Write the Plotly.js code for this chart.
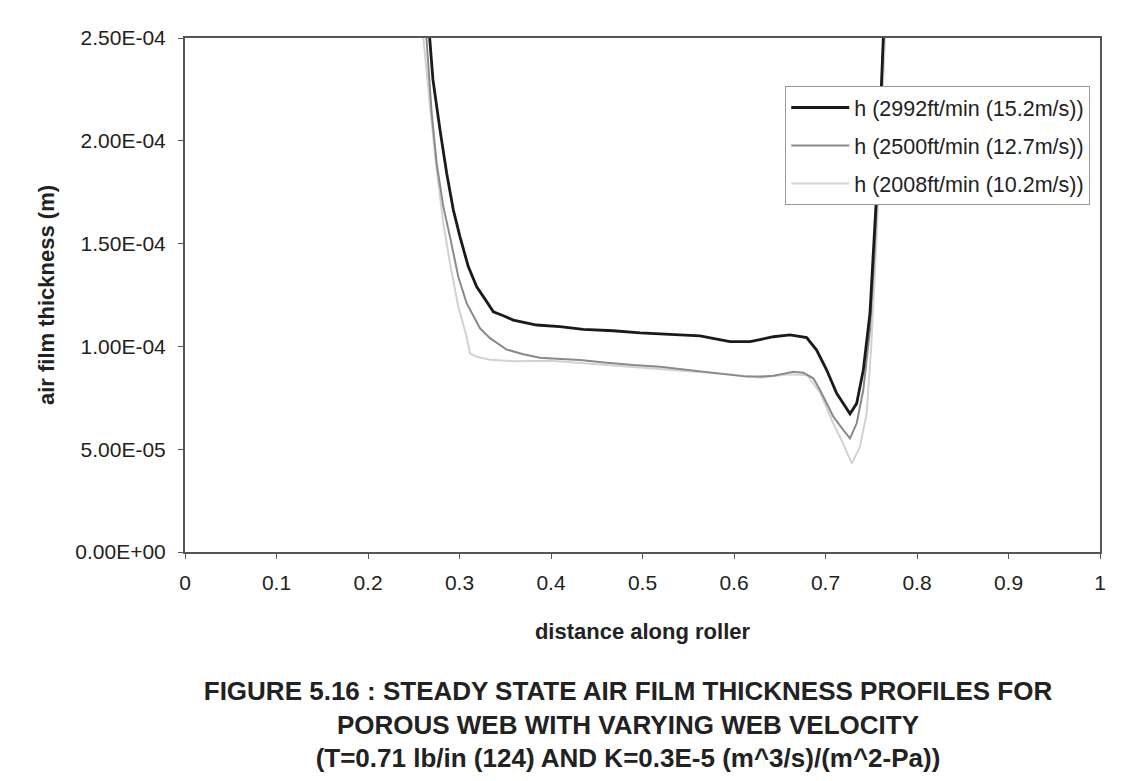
<!DOCTYPE html>
<html>
<head>
<meta charset="utf-8">
<script src="https://cdn.plot.ly/plotly-3.0.1.min.js"></script>
<style>html,body{margin:0;padding:0;background:#fff;}#chart{width:1142px;height:781px;}</style>
</head>
<body>
<div id="chart"></div>
<script>
// Series names
const seriesNames = ["h (2992ft/min (15.2m/s))", "h (2500ft/min (12.7m/s))", "h (2008ft/min (10.2m/s))"];

// 2992 ft/min (15.2 m/s)
const x2992 = [0.263, 0.267, 0.271, 0.2787, 0.286, 0.2933, 0.3005, 0.3096, 0.3188, 0.3279, 0.3333, 0.337, 0.348, 0.3588, 0.3843, 0.4098, 0.4353, 0.468, 0.4973, 0.5301, 0.5628, 0.5956, 0.6175, 0.6284, 0.643, 0.6612, 0.6794, 0.6903, 0.7013, 0.7122, 0.7268, 0.7341, 0.7413, 0.7486, 0.7541, 0.7577, 0.7614, 0.7645];
const h2992 = [2.75e-4, 2.5e-4, 2.296e-4, 2.053e-4, 1.842e-4, 1.663e-4, 1.534e-4, 1.388e-4, 1.290e-4, 1.23e-4, 1.19e-4, 1.168e-4, 1.149e-4, 1.128e-4, 1.104e-4, 1.096e-4, 1.083e-4, 1.076e-4, 1.066e-4, 1.059e-4, 1.051e-4, 1.023e-4, 1.023e-4, 1.033e-4, 1.047e-4, 1.056e-4, 1.043e-4, 0.982e-4, 0.885e-4, 0.772e-4, 0.672e-4, 0.723e-4, 0.885e-4, 1.161e-4, 1.566e-4, 1.891e-4, 2.30e-4, 2.65e-4];

// 2500 ft/min (12.7 m/s)
const x2500 = [0.260, 0.264, 0.2696, 0.275, 0.2823, 0.2896, 0.2987, 0.3078, 0.3188, 0.3224, 0.3333, 0.3515, 0.3697, 0.388, 0.4062, 0.4317, 0.4609, 0.49, 0.519, 0.5519, 0.5847, 0.6138, 0.6284, 0.643, 0.6576, 0.6648, 0.6758, 0.6867, 0.694, 0.7086, 0.7195, 0.7268, 0.7341, 0.7413, 0.7486, 0.7541, 0.7577, 0.7614, 0.7645];
const h2500 = [2.75e-4, 2.5e-4, 2.134e-4, 1.891e-4, 1.680e-4, 1.534e-4, 1.339e-4, 1.210e-4, 1.112e-4, 1.088e-4, 1.040e-4, 0.985e-4, 0.962e-4, 0.945e-4, 0.940e-4, 0.934e-4, 0.921e-4, 0.909e-4, 0.901e-4, 0.885e-4, 0.869e-4, 0.853e-4, 0.853e-4, 0.857e-4, 0.870e-4, 0.877e-4, 0.872e-4, 0.845e-4, 0.788e-4, 0.658e-4, 0.593e-4, 0.553e-4, 0.626e-4, 0.788e-4, 1.080e-4, 1.50e-4, 1.85e-4, 2.30e-4, 2.65e-4];

// 2008 ft/min (10.2 m/s)
const x2008 = [0.2565, 0.2605, 0.2678, 0.275, 0.2823, 0.2896, 0.2987, 0.3078, 0.3115, 0.3188, 0.3333, 0.36, 0.40, 0.45, 0.50, 0.55, 0.60, 0.63, 0.66, 0.68, 0.694, 0.7086, 0.7195, 0.7286, 0.7377, 0.745, 0.75, 0.755, 0.7595, 0.764, 0.767];
const h2008 = [2.75e-4, 2.5e-4, 2.166e-4, 1.858e-4, 1.599e-4, 1.404e-4, 1.193e-4, 1.047e-4, 0.966e-4, 0.950e-4, 0.935e-4, 0.928e-4, 0.930e-4, 0.913e-4, 0.898e-4, 0.881e-4, 0.862e-4, 0.848e-4, 0.865e-4, 0.860e-4, 0.775e-4, 0.625e-4, 0.525e-4, 0.431e-4, 0.512e-4, 0.675e-4, 1.0e-4, 1.45e-4, 1.90e-4, 2.40e-4, 2.70e-4];

// Axis ticks
const xTickVals = [0, 0.1, 0.2, 0.3, 0.4, 0.5, 0.6, 0.7, 0.8, 0.9, 1];
const xTickText = ["0", "0.1", "0.2", "0.3", "0.4", "0.5", "0.6", "0.7", "0.8", "0.9", "1"];
const yTickVals = [0, 5e-5, 1e-4, 1.5e-4, 2e-4, 2.5e-4];
const yTickText = ["0.00E+00", "5.00E-05", "1.00E-04", "1.50E-04", "2.00E-04", "2.50E-04"];

const FONT = "Liberation Sans, Arial, sans-serif";

const traces = [
  {x: x2008, y: h2008, name: seriesNames[2], mode: "lines", legendgroup: "c", legendrank: 3,
   line: {color: "#d2d2d2", width: 2}},
  {x: x2500, y: h2500, name: seriesNames[1], mode: "lines", legendgroup: "b", legendrank: 2,
   line: {color: "#8a8a8a", width: 2}},
  {x: x2992, y: h2992, name: seriesNames[0], mode: "lines", legendgroup: "a", legendrank: 1,
   line: {color: "#1a1a1a", width: 2.8}}
];

const layout = {
  width: 1142, height: 781,
  paper_bgcolor: "#fff", plot_bgcolor: "#fff",
  margin: {l: 185, r: 42, t: 38, b: 229},
  font: {family: FONT, color: "#222", size: 21},
  showlegend: true,
  legend: {
    x: 0.656, y: 0.9066, xanchor: "left", yanchor: "top",
    bgcolor: "#fff", bordercolor: "#999", borderwidth: 1,
    font: {family: FONT, size: 21.5, color: "#222"},
    tracegroupgap: 7, itemwidth: 58, traceorder: "grouped"
  },
  title: {
    text: "<b>FIGURE 5.16 : STEADY STATE AIR FILM THICKNESS PROFILES FOR<br>POROUS WEB WITH VARYING WEB VELOCITY<br>(T=0.71 lb/in (124) AND K=0.3E-5 (m^3/s)/(m^2-Pa))</b>",
    font: {family: FONT, size: 26, color: "#222"},
    xref: "container", yref: "container",
    x: 0.5499, xanchor: "center",
    y: 0.104, yanchor: "top"
  },
  xaxis: {
    range: [0, 1], tickvals: xTickVals, ticktext: xTickText,
    showgrid: false, zeroline: false,
    showline: true, linecolor: "#555", linewidth: 2, mirror: true,
    ticks: "outside", ticklen: 5, tickcolor: "#555", tickwidth: 1,
    ticklabelstandoff: 6,
    tickfont: {family: FONT, size: 21, color: "#222"},
    title: {text: "<b>distance along roller</b>", font: {family: FONT, size: 22, color: "#222"}, standoff: 30}
  },
  yaxis: {
    range: [0, 2.5e-4], tickvals: yTickVals, ticktext: yTickText,
    showgrid: false, zeroline: false,
    showline: true, linecolor: "#555", linewidth: 2, mirror: true,
    ticks: "outside", ticklen: 5, tickcolor: "#555", tickwidth: 1,
    ticklabelstandoff: 8,
    tickfont: {family: FONT, size: 21, color: "#222"},
    title: {text: "<b>air film thickness (m)</b>", font: {family: FONT, size: 22, color: "#222"}, standoff: 15}
  }
};

Plotly.newPlot("chart", traces, layout, {displayModeBar: false, staticPlot: true});
</script>
</body>
</html>
